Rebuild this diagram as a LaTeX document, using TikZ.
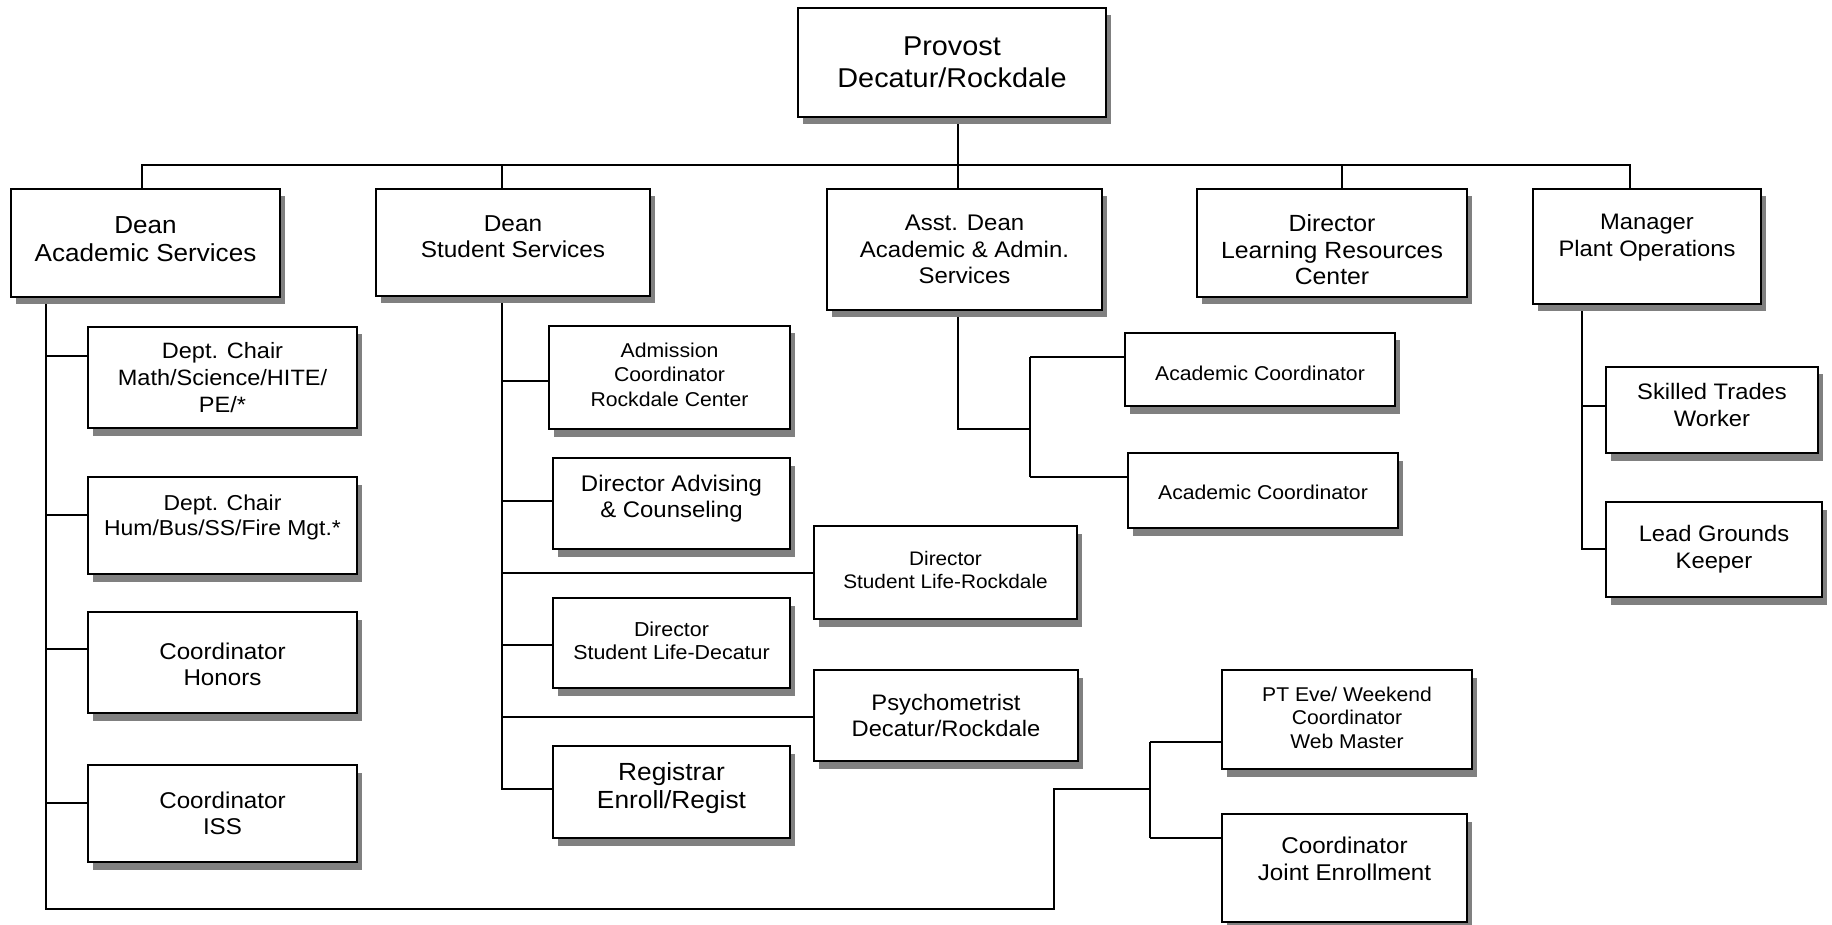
\documentclass[tikz,border=0pt]{standalone}
\usepackage{fontspec}
\setmainfont{Liberation Sans}[FakeStretch=1.06]
\usetikzlibrary{shadows,backgrounds}
\definecolor{shadowgray}{HTML}{808080}
\begin{document}
\begin{tikzpicture}[x=0.5pt,y=-0.5pt,
  box/.style={draw,line width=1pt,fill=white,inner sep=0pt,
    drop shadow={shadow xshift=2.5pt,shadow yshift=-3.75pt,fill=shadowgray,opacity=1}},
  conn/.style={line width=0.8pt},
  txt/.style n args={4}{label={[align=center,inner sep=0pt,font=\fontsize{#1pt}{#2pt}\selectfont,yshift=#3pt]center:{#4}}}]
\useasboundingbox (0,0) rectangle (1832,925);

% top level
\node[box,minimum width=154pt,minimum height=54.5pt,txt={13.6}{15.8}{0}{Provost\\Decatur/Rockdale}] (prov) at (952,62.5) {};
\node[box,minimum width=134.5pt,minimum height=54pt,txt={12.3}{14}{2}{Dean\\Academic Services}] (dacad) at (145.5,243) {};
\node[box,minimum width=137pt,minimum height=53.5pt,txt={11.5}{13}{3}{Dean\\Student Services}] (dstud) at (513,242.5) {};
\node[box,minimum width=137.5pt,minimum height=60.5pt,txt={11.3}{13.3}{0}{Asst. Dean\\Academic \& Admin.\\Services}] (adean) at (964.5,249.5) {};
\node[box,minimum width=135pt,minimum height=54pt,txt={11.7}{13.3}{-3.5}{Director\\Learning Resources\\Center}] (dlrc) at (1332,243) {};
\node[box,minimum width=114pt,minimum height=57.5pt,txt={11.2}{13.3}{4.5}{Manager\\Plant Operations}] (mgr) at (1647,246.5) {};

% academic services
\node[box,minimum width=134.5pt,minimum height=50.5pt,txt={11.1}{13.3}{0}{Dept. Chair\\Math/Science/HITE/\\PE/*}] (chm) at (222.5,377.5) {};
\node[box,minimum width=134.5pt,minimum height=48.5pt,txt={10.8}{12.5}{4}{Dept. Chair\\Hum/Bus/SS/Fire Mgt.*}] (chh) at (222.5,525.5) {};
\node[box,minimum width=134.5pt,minimum height=50.5pt,txt={11.4}{13.3}{-1}{Coordinator\\Honors}] (chon) at (222.5,662.5) {};
\node[box,minimum width=134.5pt,minimum height=48.5pt,txt={11.4}{13.3}{0}{Coordinator\\ISS}] (ciss) at (222.5,813.5) {};

% student services
\node[box,minimum width=120.5pt,minimum height=51.5pt,txt={10}{12.2}{1.5}{Admission\\Coordinator\\Rockdale Center}] (adm) at (669.5,377.5) {};
\node[box,minimum width=118.5pt,minimum height=45.5pt,txt={11.3}{13.3}{2.5}{Director Advising\\\& Counseling}] (dadv) at (671.5,503.5) {};
\node[box,minimum width=131.5pt,minimum height=46.5pt,txt={9.8}{11.5}{1.5}{Director\\Student Life-Rockdale}] (dslr) at (945.5,572.5) {};
\node[box,minimum width=118.5pt,minimum height=45pt,txt={10.1}{11.7}{1}{Director\\Student Life-Decatur}] (dsld) at (671.5,643) {};
\node[box,minimum width=132pt,minimum height=45.5pt,txt={11.2}{13.3}{0}{Psychometrist\\Decatur/Rockdale}] (psy) at (946,715.5) {};
\node[box,minimum width=118.5pt,minimum height=46pt,txt={12.4}{14.2}{2}{Registrar\\Enroll/Regist}] (reg) at (671.5,792) {};

% asst dean
\node[box,minimum width=135pt,minimum height=36.5pt,txt={10}{12}{-2}{Academic Coordinator}] (ac1) at (1260,369.5) {};
\node[box,minimum width=135pt,minimum height=37.5pt,txt={10}{12}{-1}{Academic Coordinator}] (ac2) at (1263,490.5) {};

% fork from academic services
\node[box,minimum width=125pt,minimum height=49.5pt,txt={9.95}{11.7}{1}{PT Eve/ Weekend\\Coordinator\\Web Master}] (pt) at (1347,719.5) {};
\node[box,minimum width=122.5pt,minimum height=54pt,txt={11.4}{13.3}{4.5}{Coordinator\\Joint Enrollment}] (cje) at (1344.5,868) {};

% plant operations
\node[box,minimum width=106pt,minimum height=43pt,txt={11.2}{13.3}{2.5}{Skilled Trades\\Worker}] (sk) at (1712,410) {};
\node[box,minimum width=108pt,minimum height=47.5pt,txt={11.2}{13.3}{0}{Lead Grounds\\Keeper}] (lg) at (1714,549.5) {};

\begin{pgfonlayer}{background}
% top bus
\coordinate (busL) at (142,165);
\coordinate (busS) at (502,165);
\coordinate (busA) at (958,165);
\coordinate (busD) at (1342,165);
\coordinate (busR) at (1630,165);
\draw[conn] (prov.south -| busA) -- (adean.north -| busA);
\draw[conn] (dacad.north -| busL) -- (busL) -- (busR) -- (mgr.north -| busR);
\draw[conn] (busS) -- (dstud.north -| busS);
\draw[conn] (busD) -- (dlrc.north -| busD);

% academic services spine
\coordinate (aspine) at (46,0);
\coordinate (abot) at (46,909);
\coordinate (ajog) at (1054,909);
\coordinate (ajog2) at (1054,789);
\coordinate (afork) at (1150,789);
\draw[conn] (dacad.south -| aspine) -- (abot) -- (ajog) -- (ajog2) -- (afork);
\coordinate (a1) at (46,356);
\coordinate (a2) at (46,515);
\coordinate (a3) at (46,649);
\coordinate (a4) at (46,803);
\draw[conn] (a1) -- (chm.west |- a1);
\draw[conn] (a2) -- (chh.west |- a2);
\draw[conn] (a3) -- (chon.west |- a3);
\draw[conn] (a4) -- (ciss.west |- a4);

% fork
\coordinate (f1) at (1150,742);
\coordinate (f2) at (1150,838);
\draw[conn] (f1) -- (f2);
\draw[conn] (f1) -- (pt.west |- f1);
\draw[conn] (f2) -- (cje.west |- f2);

% student services spine
\coordinate (sspine) at (502,789);
\draw[conn] (dstud.south -| sspine) -- (sspine) -- (reg.west |- sspine);
\coordinate (s1) at (502,381);
\coordinate (s2) at (502,501);
\coordinate (s3) at (502,573);
\coordinate (s4) at (502,645);
\coordinate (s5) at (502,717);
\draw[conn] (s1) -- (adm.west |- s1);
\draw[conn] (s2) -- (dadv.west |- s2);
\draw[conn] (s3) -- (dslr.west |- s3);
\draw[conn] (s4) -- (dsld.west |- s4);
\draw[conn] (s5) -- (psy.west |- s5);

% asst dean
\coordinate (ad1) at (958,429);
\coordinate (ad2) at (1030,429);
\coordinate (ad3) at (1030,357);
\coordinate (ad4) at (1030,477);
\draw[conn] (adean.south -| busA) -- (ad1) -- (ad2);
\draw[conn] (ad3) -- (ad4);
\draw[conn] (ad3) -- (ac1.west |- ad3);
\draw[conn] (ad4) -- (ac2.west |- ad4);

% plant operations
\coordinate (m0) at (1582,0);
\coordinate (m1) at (1582,406);
\coordinate (m2) at (1582,549);
\draw[conn] (mgr.south -| m0) -- (m2) -- (lg.west |- m2);
\draw[conn] (m1) -- (sk.west |- m1);
\end{pgfonlayer}
\end{tikzpicture}
\end{document}
